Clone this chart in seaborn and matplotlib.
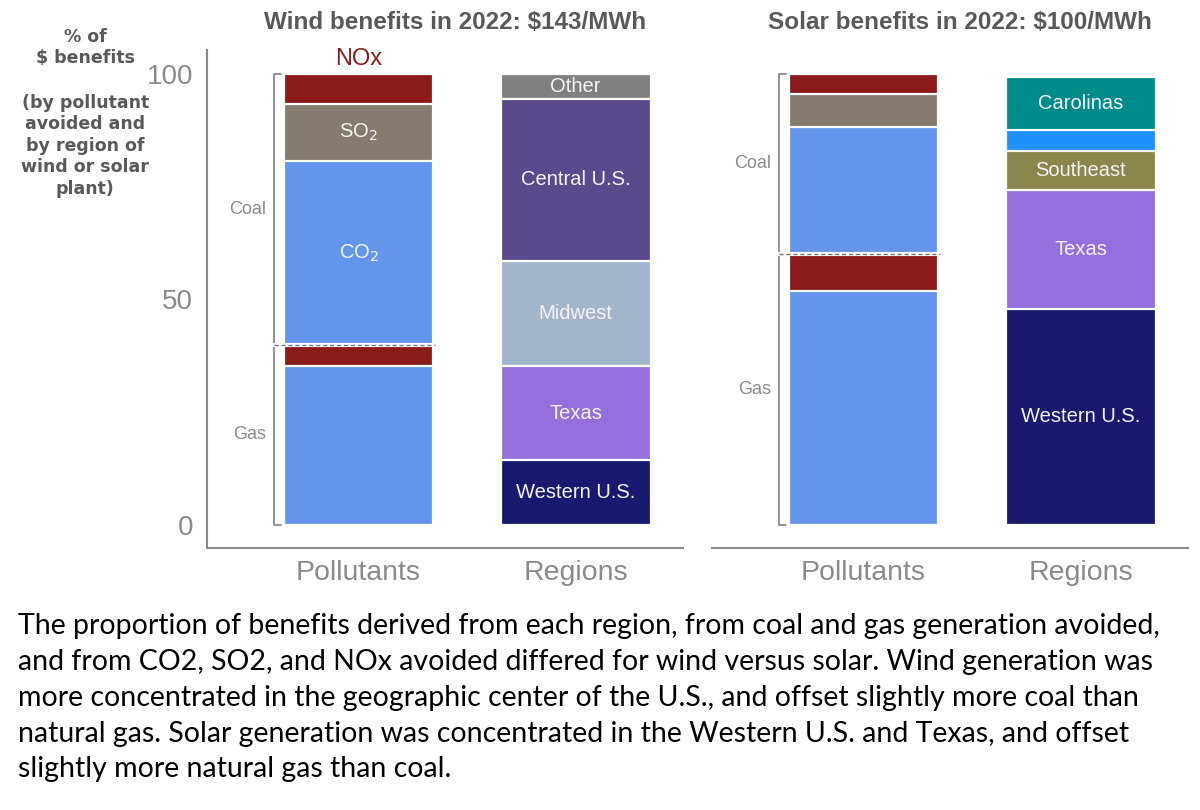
import pandas as pd
import matplotlib.pyplot as plt
import seaborn as sns

# x categories of each panel
GROUPS = ["Pollutants", "Regions"]

# Pollutant shares, bottom to top (gas part first, then coal part)
pollutant_segments = ["Gas CO2", "Gas NOx", "Coal CO2", "Coal SO2", "Coal NOx"]
wind_pollutant_pct = [35.3, 4.6, 40.7, 12.7, 6.7]
solar_pollutant_pct = [51.8, 8.2, 28.2, 7.3, 4.5]
wind_pollutant_labels = ["", "", "CO$_2$", "SO$_2$", ""]
solar_pollutant_labels = ["", "", "", "", ""]

# Region shares, bottom to top
wind_regions = ["Western U.S.", "Texas", "Midwest", "Central U.S.", "Other"]
wind_region_pct = [14.4, 20.8, 23.4, 35.7, 5.7]
solar_regions = ["Western U.S.", "Texas", "Southeast", "Other", "Carolinas"]
solar_region_pct = [47.9, 26.3, 8.6, 4.8, 11.7]
solar_region_labels = ["Western U.S.", "Texas", "Southeast", "", "Carolinas"]

pollutant_colors = {"Gas CO2": "#6495ED", "Gas NOx": "#8B1A1A", "Coal CO2": "#6495ED",
                    "Coal SO2": "#857B6E", "Coal NOx": "#8B1A1A"}
region_colors = {"Western U.S.": "#191970", "Texas": "#9370DB", "Midwest": "#A2B5CD",
                 "Central U.S.": "#5B4A8B", "Other": "#808080"}
solar_region_colors = {"Western U.S.": "#191970", "Texas": "#9370DB", "Southeast": "#8B864E",
                       "Other": "#1E90FF", "Carolinas": "#008B8B"}

titles = [r"Wind benefits in 2022: \$143/MWh", r"Solar benefits in 2022: \$100/MWh"]

caption = ("The proportion of benefits derived from each region, from coal and gas generation avoided,\n"
           "and from CO2, SO2, and NOx avoided differed for wind versus solar. Wind generation was\n"
           "more concentrated in the geographic center of the U.S., and offset slightly more coal than\n"
           "natural gas. Solar generation was concentrated in the Western U.S. and Texas, and offset\n"
           "slightly more natural gas than coal.")

GRAY = "#8a8a8a"
DARK = "#595959"


def build_table(p_vals, p_labels, r_names, r_vals, r_labels, r_colors):
    """Long table of stacked segments with bottoms and tops."""
    rows = []
    for group, names, vals, labels, colors in [
        ("Pollutants", pollutant_segments, p_vals, p_labels, pollutant_colors),
        ("Regions", r_names, r_vals, r_labels, r_colors),
    ]:
        bottom = 0.0
        for name, val, lab in zip(names, vals, labels):
            rows.append({"group": group, "segment": name, "value": val, "bottom": bottom,
                         "top": bottom + val, "color": colors[name], "label": lab})
            bottom += val
    return pd.DataFrame(rows)


def draw_panel(ax, df, title, gas_total, show_y):
    # draw cumulative bars from tallest to shortest so each segment shows
    for _, row in df.sort_values("top", ascending=False).iterrows():
        sns.barplot(x=[row["group"]], y=[row["top"]], order=GROUPS, color=row["color"],
                    saturation=1, width=0.69, edgecolor="white", linewidth=1.6,
                    errorbar=None, ax=ax)
    for _, row in df.iterrows():
        if row["label"]:
            xpos = GROUPS.index(row["group"])
            ax.text(xpos, (row["bottom"] + row["top"]) / 2, row["label"], color="#f4f4f4",
                    fontsize=14.5, ha="center", va="center")

    # coal / gas bracket next to the pollutant bar
    bx, tx = -0.39, -0.355
    ax.plot([tx, bx, bx, tx], [100, 100, 0, 0], color=GRAY, lw=1.3, clip_on=False)
    ax.plot([bx, 0.35], [gas_total, gas_total], color="white", lw=3, zorder=5)
    ax.plot([bx, 0.35], [gas_total, gas_total], color="#777777", lw=1, ls=(0, (3, 2)), zorder=6)
    ax.text(-0.425, (100 + gas_total) / 2, "Coal", color=GRAY, fontsize=13, ha="right", va="center")
    ax.text(-0.425, gas_total / 2, "Gas", color=GRAY, fontsize=13, ha="right", va="center")

    ax.set_xlim(-0.698, 1.496)
    ax.set_ylim(-5.1, 105.3)
    ax.set_xlabel("")
    ax.set_ylabel("")
    ax.text(0.52, 1.055, title, transform=ax.transAxes, ha="center", va="center",
            fontsize=17.5, fontweight="bold", color=DARK)

    sns.despine(ax=ax, left=not show_y)
    for side in ["left", "bottom"]:
        ax.spines[side].set_color(GRAY)
        ax.spines[side].set_linewidth(1.5)
    ax.tick_params(axis="x", length=0, pad=9, labelsize=20.5, labelcolor=GRAY)
    if show_y:
        ax.set_yticks([0, 50, 100])
        ax.set_yticklabels(["0", "50", "100"])
        ax.tick_params(axis="y", length=0, pad=10, labelsize=20, labelcolor=GRAY)
    else:
        ax.set_yticks([])


def main():
    sns.set_style("white")
    plt.rcParams["font.family"] = ["Liberation Sans", "DejaVu Sans"]

    wind = build_table(wind_pollutant_pct, wind_pollutant_labels, wind_regions,
                       wind_region_pct, wind_regions, region_colors)
    solar = build_table(solar_pollutant_pct, solar_pollutant_labels, solar_regions,
                        solar_region_pct, solar_region_labels, solar_region_colors)

    fig = plt.figure(figsize=(12, 8.1), dpi=100)
    ax1 = fig.add_axes([0.1725, 0.3235, 0.397, 0.615])
    ax2 = fig.add_axes([0.5933, 0.3235, 0.397, 0.615])

    draw_panel(ax1, wind, titles[0], sum(wind_pollutant_pct[:2]), True)
    draw_panel(ax2, solar, titles[1], sum(solar_pollutant_pct[:2]), False)

    # NOx label above the wind pollutant bar
    ax1.text(0, 103.2, "NOx", color="#8B1A1A", fontsize=17, ha="center", va="center")

    fig.text(0.071, 0.966, "% of\n\\$ benefits", ha="center", va="top", fontsize=12.5,
             fontweight="bold", color=DARK, family="DejaVu Sans", linespacing=1.25)
    fig.text(0.071, 0.884, "(by pollutant\navoided and\nby region of\nwind or solar\nplant)",
             ha="center", va="top", fontsize=12.5, fontweight="bold", color=DARK,
             family="DejaVu Sans", linespacing=1.25)

    fig.text(0.015, 0.2433, caption, ha="left", va="top", fontsize=20.5, color="black",
             family="Lato", linespacing=1.47)

    fig.savefig("out.png", dpi=100)


if __name__ == "__main__":
    main()
